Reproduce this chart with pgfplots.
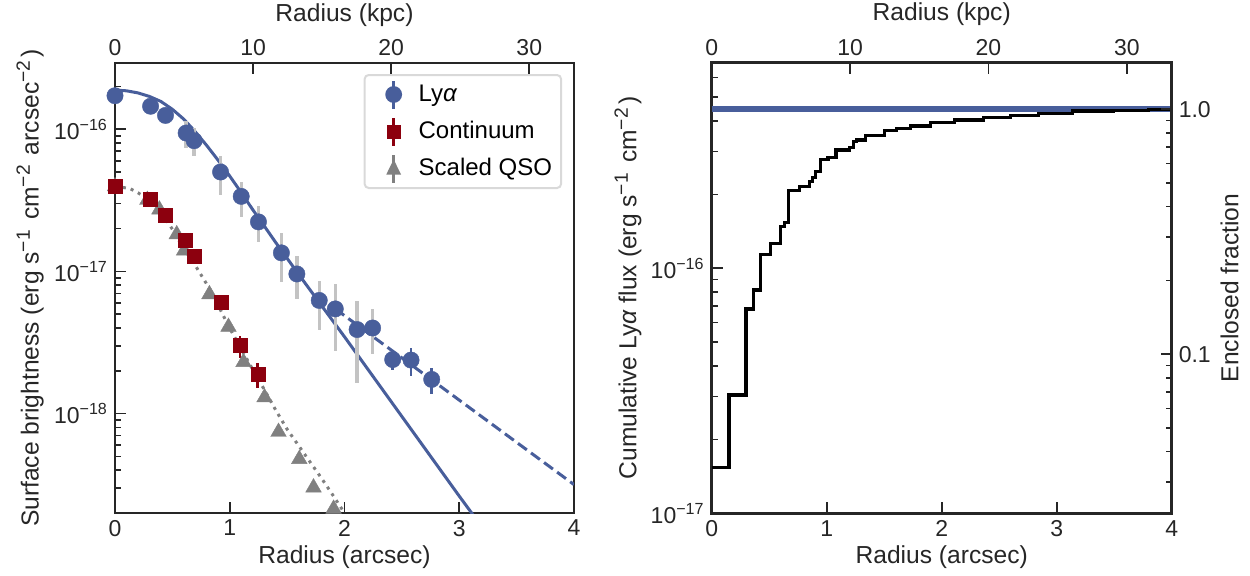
\documentclass[border=0pt]{standalone}
\usepackage{fontspec}
\setmainfont{Liberation Sans}
\usepackage{pgfplots}
\usepackage{pgfplotstable}
\pgfplotsset{compat=1.18}
\definecolor{lyablue}{RGB}{72,94,155}
\definecolor{contred}{RGB}{140,0,14}
\definecolor{qsogray}{RGB}{128,128,128}
\definecolor{errgray}{RGB}{195,195,195}
\definecolor{spine}{RGB}{38,38,38}
\newcommand{\sups}[1]{\textsuperscript{\fontsize{9.6}{10}\selectfont #1}\hspace{1.2pt}}

% Ly-alpha points: r, SB, gray (systematic) bars, blue bars
\pgfplotstableread{
r y sp sm bp bm
0.00 1.72e-16 0 0 0 0
0.31 1.45e-16 0 0 0 0
0.44 1.25e-16 0 0 0 0
0.62 9.4e-17 1.95e-17 2.02e-17 0 0
0.69 8.3e-17 1.9e-17 1.86e-17 0 0
0.92 5.0e-17 1.51e-17 1.53e-17 0 0
1.10 3.37e-17 0.86e-17 0.95e-17 0 0
1.25 2.23e-17 0.64e-17 0.63e-17 0 0
1.45 1.35e-17 5.2e-18 5.12e-18 0 0
1.585 9.6e-18 3.2e-18 3.19e-18 0 0
1.78 6.25e-18 2.36e-18 2.35e-18 0 0
1.92 5.45e-18 2.72e-18 2.7e-18 0 0
2.11 3.9e-18 2.27e-18 2.27e-18 0 0
2.245 4.0e-18 1.4e-18 1.37e-18 0 0
2.42 2.4e-18 0 0 0.37e-18 0.37e-18
2.58 2.38e-18 0 0 0.53e-18 0.53e-18
2.76 1.74e-18 0 0 0.36e-18 0.36e-18
}\lyatab

\pgfplotstableread{
r y ep em
0.00 3.96e-17 0 0
0.31 3.2e-17 0 0
0.44 2.5e-17 0 0
0.615 1.66e-17 0 0
0.69 1.28e-17 0 0
0.925 6.1e-18 0 0
1.09 3.01e-18 0.53e-18 0.54e-18
1.245 1.9e-18 0.38e-18 0.38e-18
}\conttab

\pgfplotstableread{
r y
0.00 3.96e-17
0.282 3.18e-17
0.387 2.72e-17
0.538 1.82e-17
0.602 1.40e-17
0.823 6.9e-18
0.989 4.07e-18
1.12 2.30e-18
1.303 1.30e-18
1.425 7.43e-19
1.606 4.79e-19
1.73 3.02e-19
1.905 2.14e-19
}\qsotab

\pgfplotstableread{
r y
0.000 3.98e-17
0.131 3.82e-17
0.204 3.56e-17
0.3 3.16e-17
0.4 2.63e-17
0.5 1.98e-17
0.6 1.445e-17
0.7 1.10e-17
0.8 8.13e-18
0.9 5.75e-18
1.0 3.98e-18
1.1 2.85e-18
1.2 2.04e-18
1.3 1.48e-18
1.4 1.06e-18
1.5 7.76e-19
1.6 5.96e-19
1.7 4.57e-19
1.8 3.51e-19
1.9 2.66e-19
2.0 2.0e-19
}\qsofit

\pgfplotstableread{
r y
0.0 1.884e-16
0.1 1.862e-16
0.2 1.80e-16
0.3 1.70e-16
0.4 1.567e-16
0.5 1.38e-16
0.6 1.175e-16
0.7 9.59e-17
0.8 7.67e-17
0.9 6.03e-17
1.0 4.68e-17
1.1 3.59e-17
1.2 2.72e-17
1.3 2.09e-17
1.4 1.60e-17
1.6 9.55e-18
1.8 5.75e-18
2.0 3.47e-18
2.5 9.55e-19
3.0 2.63e-19
3.2 1.585e-19
}\lyafit

\pgfplotstableread{
r y
1.92 5.45e-18
4.0 3.17e-19
}\lyatail

\pgfplotstableread{
r y
0.000 1.54e-17
0.151 3.04e-17
0.299 6.82e-17
0.363 8.15e-17
0.421 1.14e-16
0.514 1.26e-16
0.601 1.48e-16
0.636 1.54e-16
0.671 2.07e-16
0.764 2.15e-16
0.851 2.26e-16
0.874 2.35e-16
0.900 2.48e-16
0.944 2.78e-16
1.011 2.84e-16
1.080 3.04e-16
1.200 3.12e-16
1.230 3.29e-16
1.260 3.34e-16
1.340 3.47e-16
1.500 3.65e-16
1.610 3.73e-16
1.730 3.81e-16
1.900 3.93e-16
2.110 4.03e-16
2.360 4.13e-16
2.600 4.20e-16
2.840 4.29e-16
3.140 4.38e-16
3.490 4.42e-16
3.800 4.44e-16
4.000 4.44e-16
}\cumtab

\pgfplotsset{
  base/.style={
    scale only axis, width=229.5pt, height=225pt,
    axis line style={-, spine, line width=1.4pt},
    tick style={spine, line width=0.8pt},
    major tick length=5.5pt, minor tick length=3pt,
    tick align=inside,
    tick label style={font=\fontsize{11.5}{13}\selectfont, text=spine},
    label style={font=\fontsize{12.3}{14}\selectfont, text=spine},
    /pgf/number format/assume math mode=true,
    xmin=0, xmax=4,
  },
}

\begin{document}
\begin{tikzpicture}
\useasboundingbox (0,0) rectangle (625pt,288pt);

% ---------------- Left panel ----------------
\begin{axis}[base, at={(57.5pt,31.5pt)}, anchor=south west,
  ymode=log, ymin=2.0e-19, ymax=2.92e-16,
  xtick={0,1,2,3,4}, xtick pos=left, ytick pos=left,
  ytick={1e-18,1e-17,1e-16},
  yticklabels={10\textsuperscript{−18},10\textsuperscript{−17},10\textsuperscript{−16}},
  minor ytick={3e-19,4e-19,5e-19,6e-19,7e-19,8e-19,9e-19,2e-18,3e-18,4e-18,5e-18,6e-18,7e-18,8e-18,9e-18,2e-17,3e-17,4e-17,5e-17,6e-17,7e-17,8e-17,9e-17,2e-16},
  xlabel={Radius (arcsec)},
  ylabel={Surface brightness (erg s\sups{−1} cm\sups{−2} arcsec\sups{−2})},
  xlabel style={at={(axis description cs:0.5,-0.098)}, anchor=center},
  ylabel style={at={(axis description cs:-0.185,0.5)}, anchor=center},
  legend style={at={(axis description cs:0.974,0.9756)}, anchor=north east,
    draw=black!15, line width=1pt, rounded corners=2pt, fill=white,
    font=\fontsize{12}{14}\selectfont, row sep=0pt, column sep=0pt,
    inner xsep=4.5pt, inner ysep=0.5pt, nodes={inner sep=0pt}},
  legend cell align=left,
]
\addlegendimage{draw=none, mark=none, legend image code/.code={
  \path[draw=none, fill=none] (0pt,-9.25pt) rectangle (22.5pt,9.25pt);
  \draw[sharp corners, lyablue, line width=1.3pt] (10pt,-7pt) -- (10pt,7pt);
  \fill[lyablue] (10pt,0pt) circle (4.2pt);}}
\addlegendentry{Ly\textit{α}}
\addlegendimage{draw=none, mark=none, legend image code/.code={
  \path[draw=none, fill=none] (0pt,-9.25pt) rectangle (22.5pt,9.25pt);
  \draw[sharp corners, contred, line width=1.3pt] (10pt,-7pt) -- (10pt,7pt);
  \fill[sharp corners, contred] (6.5pt,-3.5pt) rectangle (13.5pt,3.5pt);}}
\addlegendentry{Continuum}
\addlegendimage{draw=none, mark=none, legend image code/.code={
  \path[draw=none, fill=none] (0pt,-9.25pt) rectangle (22.5pt,9.25pt);
  \draw[sharp corners, qsogray, line width=1.3pt] (10pt,-7pt) -- (10pt,7pt);
  \fill[sharp corners, qsogray] (10pt,4.5pt) -- (6.3pt,-3pt) -- (13.7pt,-3pt) -- cycle;}}
\addlegendentry{Scaled QSO}

% QSO fit (dotted)
\addplot[forget plot, qsogray, line width=1.5pt, dash pattern=on 1.5pt off 2.5pt] table[x=r,y=y] {\qsofit};
% QSO points
\addplot[forget plot, only marks, mark=triangle*, mark size=4.5pt,
  mark options={fill=qsogray, draw=qsogray, line width=0.2pt}] table[x=r,y=y] {\qsotab};
% continuum
\addplot[forget plot, only marks, mark=square*, mark size=3.5pt,
  mark options={fill=contred, draw=contred, line width=0.2pt},
  error bars/.cd, y dir=both, y explicit, error mark=none,
  error bar style={draw=contred, line width=1.4pt}]
  table[x=r,y=y,y error plus=ep,y error minus=em] {\conttab};
% Ly-alpha model
\addplot[forget plot, lyablue, line width=1.5pt] table[x=r,y=y] {\lyafit};
\addplot[forget plot, lyablue, line width=1.5pt, dash pattern=on 5.5pt off 2.6pt] table[x=r,y=y] {\lyatail};
% gray error bars
\addplot[forget plot, draw=none, mark=none,
  error bars/.cd, y dir=both, y explicit, error mark=none,
  error bar style={draw=errgray, line width=1.7pt, solid}]
  table[x=r,y=y,y error plus=sp,y error minus=sm] {\lyatab};
% Ly-alpha points
\addplot[forget plot, only marks, mark=*, mark size=4.1pt,
  mark options={fill=lyablue, draw=lyablue, line width=0.2pt},
  error bars/.cd, y dir=both, y explicit, error mark=none,
  error bar style={draw=lyablue, line width=1.4pt}]
  table[x=r,y=y,y error plus=bp,y error minus=bm] {\lyatab};
\end{axis}

% top kpc axis, left panel
\begin{axis}[base, at={(57.5pt,31.5pt)}, anchor=south west,
  xmin=0, xmax=33.24, ymin=0, ymax=1,
  axis x line*=top, axis y line=none, tick align=inside,
  axis line style={-},
  xtick={0,10,20,30},
  xlabel={Radius (kpc)},
  xlabel style={at={(axis description cs:0.5,1.107)}, anchor=center},
]
\addplot[draw=none] coordinates {(0,0.5)};
\end{axis}

% ---------------- Right panel ----------------
\begin{axis}[base, at={(355.85pt,31.35pt)}, anchor=south west, width=230pt, height=225.3pt,
  ymode=log, ymin=1e-17, ymax=6.9e-16,
  xtick={0,1,2,3,4}, xtick pos=left, ytick pos=left,
  ytick={1e-17,1e-16},
  yticklabels={10\textsuperscript{−17},10\textsuperscript{−16}},
  minor ytick={2e-17,3e-17,4e-17,5e-17,6e-17,7e-17,8e-17,9e-17,2e-16,3e-16,4e-16,5e-16,6e-16},
  xlabel={Radius (arcsec)},
  ylabel={Cumulative Ly\textit{α} flux (erg s\sups{−1} cm\sups{−2})},
  xlabel style={at={(axis description cs:0.5,-0.098)}, anchor=center},
  ylabel style={at={(axis description cs:-0.182,0.5)}, anchor=center},
]
\addplot[lyablue, line width=2.8pt] coordinates {(0,4.47e-16) (4,4.47e-16)};
\addplot[black, line width=1.6pt, const plot] table[x=r,y=y] {\cumtab};
\end{axis}

% right fraction axis
\begin{axis}[base, at={(355.85pt,31.35pt)}, anchor=south west, width=230pt, height=225.3pt,
  ymode=log, ymin=0.02242, ymax=1.547,
  axis y line*=right, axis x line=none, tick align=inside,
  axis line style={-},
  ytick={0.1,1}, yticklabels={0.1,1.0},
  minor ytick={0.03,0.04,0.05,0.06,0.07,0.08,0.09,0.2,0.3,0.4,0.5,0.6,0.7,0.8,0.9},
  ylabel={Enclosed fraction},
  ylabel style={at={(axis description cs:1.1257,0.5)}, anchor=center},
]
\addplot[draw=none] coordinates {(1,0.5)};
\end{axis}

% top kpc axis, right panel
\begin{axis}[base, at={(355.85pt,31.35pt)}, anchor=south west, width=230pt, height=225.3pt,
  xmin=0, xmax=33.24, ymin=0, ymax=1,
  axis x line*=top, axis y line=none, tick align=inside,
  axis line style={-},
  xtick={0,10,20,30},
  xlabel={Radius (kpc)},
  xlabel style={at={(axis description cs:0.5,1.107)}, anchor=center},
]
\addplot[draw=none] coordinates {(0,0.5)};
\end{axis}
\end{tikzpicture}
\end{document}
